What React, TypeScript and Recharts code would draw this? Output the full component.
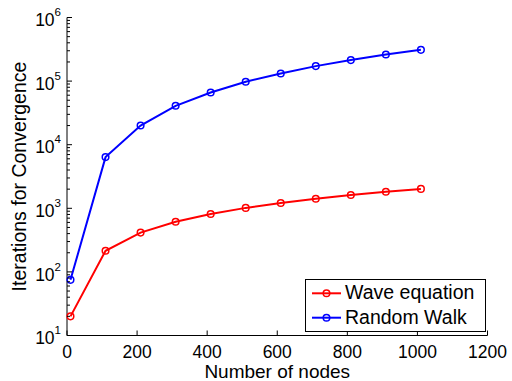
import React from "react";
import { LineChart, Line, XAxis, YAxis, Legend } from "recharts";

// number of nodes in the network
const nodes = [10, 110, 210, 310, 410, 510, 610, 710, 810, 910, 1010];
// iterations until convergence
const waveEquation = [20, 215, 415, 615, 815, 1015, 1210, 1410, 1620, 1820, 2020];
const randomWalk = [75, 6380, 20000, 40900, 66200, 97500, 132000, 172000, 214000, 262000, 310000];

const xTicks = [0, 200, 400, 600, 800, 1000, 1200];
const yMajorTicks = [10, 100, 1000, 10000, 100000, 1000000];
const yMinorTicks = yMajorTicks.slice(0, -1).flatMap((d) => [2, 3, 4, 5, 6, 7, 8, 9].map((k) => k * d));
const yTicks = [...yMajorTicks, ...yMinorTicks].sort((a, b) => a - b);

const FONT = "Liberation Sans, Arial, Helvetica, sans-serif";

const data = nodes.map((n, i) => ({ nodes: n, wave: waveEquation[i], walk: randomWalk[i] }));

const XTick = ({ x, y, payload, side }: any) => {
  const dir = side === "bottom" ? -1 : 1;
  return (
    <g>
      <line x1={x} x2={x} y1={y} y2={y + dir * 5} stroke="#000" strokeWidth={1} />
      {side === "bottom" && (
        <text x={x} y={y + 22} textAnchor="middle" fontSize={17.5} fontFamily={FONT} fill="#000">
          {payload.value}
        </text>
      )}
    </g>
  );
};

const YTick = ({ x, y, payload, side }: any) => {
  const v = payload.value;
  const major = yMajorTicks.includes(v);
  const len = major ? 5 : 3;
  const dir = side === "left" ? 1 : -1;
  return (
    <g>
      <line x1={x} x2={x + dir * len} y1={y} y2={y} stroke="#000" strokeWidth={1} />
      {side === "left" && major && (
        <text x={x - 6} y={y + 8.7} textAnchor="end" fontSize={17.5} fontFamily={FONT} fill="#000">
          10
          <tspan dy={-10} fontSize={11.5}>
            {Math.round(Math.log10(v))}
          </tspan>
        </text>
      )}
    </g>
  );
};

const legendItems = [
  { name: "Wave equation", color: "#ff0000" },
  { name: "Random Walk", color: "#0000ff" },
];

const LegendBox = () => (
  <svg width={181} height={53} style={{ display: "block" }}>
    <rect x={0.5} y={0.5} width={180} height={52} fill="#fff" stroke="#000" strokeWidth={1} />
    {legendItems.map((item, i) => {
      const cy = 14.3 + i * 24.4;
      return (
        <g key={item.name}>
          <line x1={7} x2={36} y1={cy} y2={cy} stroke={item.color} strokeWidth={2} />
          <circle cx={21.5} cy={cy} r={3.3} fill="none" stroke={item.color} strokeWidth={1.5} />
          <text x={40} y={cy + 6} fontSize={19.5} fontFamily={FONT} fill="#000">
            {item.name}
          </text>
        </g>
      );
    })}
  </svg>
);

const App = () => {
  return (
    <div style={{ position: "absolute", left: 0, top: 0, background: "#fff" }}>
      <LineChart
        width={512}
        height={381}
        data={data}
        margin={{ top: 17.5, right: 24.5, bottom: 0, left: 0 }}
        style={{ fontFamily: FONT }}
      >
        <XAxis
          dataKey="nodes"
          type="number"
          domain={[0, 1200]}
          ticks={xTicks}
          interval={0}
          height={45.5}
          tickSize={0}
          tickMargin={0}
          tickLine={false}
          axisLine={{ stroke: "#000" }}
          tick={(p: any) => <XTick {...p} side="bottom" />}
          label={{ value: "Number of nodes", position: "insideBottom", offset: 2.7, fontSize: 19, fill: "#000", fontFamily: FONT }}
        />
        <XAxis
          xAxisId="top"
          orientation="top"
          type="number"
          domain={[0, 1200]}
          ticks={xTicks}
          interval={0}
          height={0}
          tickSize={0}
          tickMargin={0}
          tickLine={false}
          axisLine={{ stroke: "#000" }}
          tick={(p: any) => <XTick {...p} side="top" />}
        />
        <YAxis
          scale="log"
          type="number"
          domain={[10, 1000000]}
          allowDataOverflow
          ticks={yTicks}
          interval={0}
          width={67}
          tickSize={0}
          tickMargin={0}
          tickLine={false}
          axisLine={{ stroke: "#000" }}
          tick={(p: any) => <YTick {...p} side="left" />}
          label={{
            content: ({ viewBox }: any) => {
              const cx = viewBox.x + 26;
              const cy = viewBox.y + viewBox.height / 2;
              return (
                <text
                  x={cx}
                  y={cy}
                  transform={`rotate(-90, ${cx}, ${cy})`}
                  textAnchor="middle"
                  fontSize={19.5}
                  fontFamily={FONT}
                  fill="#000"
                >
                  Iterations for Convergence
                </text>
              );
            },
          }}
        />
        <YAxis
          yAxisId="right"
          orientation="right"
          scale="log"
          type="number"
          domain={[10, 1000000]}
          allowDataOverflow
          ticks={yTicks}
          interval={0}
          width={0}
          tickSize={0}
          tickMargin={0}
          tickLine={false}
          axisLine={{ stroke: "#000" }}
          tick={(p: any) => <YTick {...p} side="right" />}
        />
        <Legend
          layout="vertical"
          align="center"
          verticalAlign="middle"
          wrapperStyle={{ position: "absolute", left: 305, top: 279, width: 181, height: 53 }}
          content={() => <LegendBox />}
        />
        <Line
          dataKey="wave"
          name="Wave equation"
          stroke="#ff0000"
          strokeWidth={2}
          dot={{ r: 3.3, fill: "none", stroke: "#ff0000", strokeWidth: 1.5 }}
          activeDot={false}
          isAnimationActive={false}
        />
        <Line
          dataKey="walk"
          name="Random Walk"
          stroke="#0000ff"
          strokeWidth={2}
          dot={{ r: 3.3, fill: "none", stroke: "#0000ff", strokeWidth: 1.5 }}
          activeDot={false}
          isAnimationActive={false}
        />
      </LineChart>
    </div>
  );
};

export default App;
